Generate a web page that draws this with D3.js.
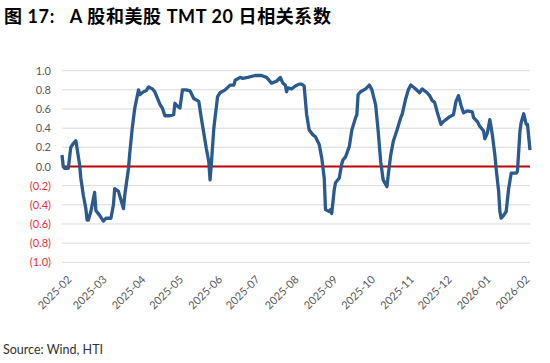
<!DOCTYPE html>
<html>
<head>
<meta charset="utf-8">
<script src="https://cdnjs.cloudflare.com/ajax/libs/d3/7.8.5/d3.min.js"></script>
<style>
	body { margin: 0; background: #fff; }
	svg { display: block; }
</style>
</head>
<body>
<script>
	// 20-day correlation, A-share vs US TMT
	var dates = [
		"2025-02-05","2025-02-06","2025-02-07","2025-02-10","2025-02-12","2025-02-14","2025-02-16","2025-02-17",
		"2025-02-19","2025-02-20","2025-02-22","2025-02-24","2025-02-25","2025-02-26","2025-02-28","2025-03-03",
		"2025-03-04","2025-03-07","2025-03-10","2025-03-12","2025-03-16","2025-03-18","2025-03-19","2025-03-22",
		"2025-03-24","2025-03-26","2025-03-27","2025-03-30","2025-03-31","2025-04-02","2025-04-04","2025-04-07",
		"2025-04-08","2025-04-11","2025-04-13","2025-04-15","2025-04-18","2025-04-20","2025-04-24","2025-04-26",
		"2025-04-28","2025-05-02","2025-05-05","2025-05-06","2025-05-08","2025-05-10","2025-05-12","2025-05-15",
		"2025-05-18","2025-05-21","2025-05-25","2025-05-27","2025-05-29","2025-05-31","2025-06-02","2025-06-03",
		"2025-06-04","2025-06-06","2025-06-09","2025-06-11","2025-06-15","2025-06-19","2025-06-22","2025-06-23",
		"2025-06-27","2025-06-29","2025-07-03","2025-07-09","2025-07-14","2025-07-18","2025-07-22","2025-07-26",
		"2025-07-29","2025-07-31","2025-08-02","2025-08-03","2025-08-04","2025-08-07","2025-08-10","2025-08-13",
		"2025-08-15","2025-08-17","2025-08-19","2025-08-21","2025-08-24","2025-08-26","2025-08-29","2025-08-31",
		"2025-09-02","2025-09-03","2025-09-06","2025-09-07","2025-09-08","2025-09-10","2025-09-11","2025-09-14",
		"2025-09-16","2025-09-17","2025-09-19","2025-09-22","2025-09-24","2025-09-27","2025-09-28","2025-09-29",
		"2025-10-01","2025-10-05","2025-10-08","2025-10-10","2025-10-13","2025-10-15","2025-10-17","2025-10-19",
		"2025-10-22","2025-10-23","2025-10-25","2025-10-27","2025-10-30","2025-11-02","2025-11-03","2025-11-06",
		"2025-11-08","2025-11-10","2025-11-13","2025-11-17","2025-11-19","2025-11-23","2025-11-25","2025-11-27",
		"2025-11-29","2025-12-01","2025-12-04","2025-12-06","2025-12-09","2025-12-11","2025-12-14","2025-12-16",
		"2025-12-18","2025-12-20","2025-12-22","2025-12-25","2025-12-29","2025-12-30","2026-01-02","2026-01-04",
		"2026-01-07","2026-01-08","2026-01-10","2026-01-12","2026-01-14","2026-01-16","2026-01-17","2026-01-19",
		"2026-01-20","2026-01-21","2026-01-23","2026-01-25","2026-01-27","2026-01-29","2026-02-02","2026-02-03",
		"2026-02-05","2026-02-06","2026-02-08","2026-02-10","2026-02-11","2026-02-13"
	];
	var corr = [
		0.12, 0.00, -0.02, -0.02, 0.20, 0.24, 0.27, 0.19,
		0.02, -0.12, -0.30, -0.44, -0.56, -0.56, -0.47, -0.27,
		-0.46, -0.51, -0.57, -0.54, -0.54, -0.40, -0.23, -0.26,
		-0.35, -0.44, -0.30, -0.02, 0.14, 0.40, 0.61, 0.80,
		0.75, 0.78, 0.79, 0.83, 0.81, 0.78, 0.65, 0.61,
		0.53, 0.53, 0.54, 0.66, 0.63, 0.61, 0.80, 0.80,
		0.79, 0.71, 0.68, 0.51, 0.35, 0.19, 0.05, -0.14,
		0.02, 0.40, 0.73, 0.77, 0.80, 0.85, 0.85, 0.90,
		0.93, 0.92, 0.93, 0.95, 0.95, 0.93, 0.87, 0.89,
		0.93, 0.87, 0.85, 0.78, 0.82, 0.81, 0.84, 0.86,
		0.86, 0.84, 0.54, 0.38, 0.33, 0.31, 0.23, 0.09,
		-0.12, -0.45, -0.47, -0.45, -0.49, -0.24, -0.17, -0.12,
		0.03, 0.07, 0.10, 0.21, 0.38, 0.51, 0.54, 0.75,
		0.78, 0.81, 0.85, 0.80, 0.64, 0.37, 0.05, -0.14,
		-0.21, -0.09, 0.12, 0.26, 0.38, 0.51, 0.54, 0.71,
		0.80, 0.85, 0.82, 0.77, 0.81, 0.77, 0.74, 0.69,
		0.67, 0.57, 0.44, 0.47, 0.50, 0.52, 0.54, 0.68,
		0.74, 0.64, 0.56, 0.58, 0.57, 0.51, 0.47, 0.42,
		0.37, 0.29, 0.35, 0.49, 0.33, 0.12, -0.02, -0.26,
		-0.47, -0.54, -0.51, -0.47, -0.23, -0.07, -0.07, -0.05,
		0.37, 0.46, 0.55, 0.44, 0.44, 0.17
	];
	var yTicks = [1.0, 0.8, 0.6, 0.4, 0.2, 0.0, -0.2, -0.4, -0.6, -0.8, -1.0];
	var monthTicks = ["2025-02-05","2025-03-05","2025-04-05","2025-05-05","2025-06-05","2025-07-05",
		"2025-08-05","2025-09-05","2025-10-05","2025-11-05","2025-12-05","2026-01-05","2026-02-05"];

	var w = 550, h = 363,
		pd = { left: 62, right: 530, top: 70.7, bottom: 262.3 },
		parse = d3.timeParse("%Y-%m-%d"),
		fmtMonth = d3.timeFormat("%Y-%m");

	var ds = dates.map(function(d, i) {
		return { date: parse(d), v: corr[i] };
	});

	var x = d3.scaleTime()
			  .domain([parse("2025-02-05"), parse("2026-02-13")])
			  .range([pd.left, pd.right]);
	var y = d3.scaleLinear()
			  .domain([-1, 1])
			  .range([pd.bottom, pd.top]);

	var svg = d3.select("body")
				.append("svg")
				.attr("width", w)
				.attr("height", h);

	svg.append("text")
	   .attr("x", 4)
	   .attr("y", 23)
	   .attr("font-family", "Lato, 'Noto Sans CJK SC', sans-serif")
	   .attr("font-weight", "bold")
	   .attr("font-size", "18px")
	   .attr("fill", "#000")
	   .style("white-space", "pre")
	   .attr("letter-spacing", "0.6px")
	   .text("图 17:   A 股和美股 TMT 20 日相关系数");

	// gridlines
	svg.append("g")
	   .selectAll("line")
	   .data(yTicks)
	   .enter()
	   .append("line")
	   .attr("x1", pd.left)
	   .attr("x2", pd.right)
	   .attr("y1", function(d) { return y(d); })
	   .attr("y2", function(d) { return y(d); })
	   .attr("stroke", "#d9d9d9")
	   .attr("stroke-width", 1);

	// y axis labels
	var yAxis = d3.axisLeft(y)
				  .tickValues(yTicks)
				  .tickSize(0)
				  .tickPadding(0)
				  .tickFormat(function(d) {
				  	var s = d3.format(".1f")(Math.abs(d));
				  	return d < 0 ? "(" + s + ")" : s;
				  });
	var gy = svg.append("g")
				.attr("transform", "translate(51,0)")
				.call(yAxis);
	gy.select(".domain").remove();
	gy.selectAll("text")
	  .attr("font-family", "Lato, sans-serif")
	  .attr("font-size", "11px")
	  .attr("fill", function(d) { return d < 0 ? "#e8303a" : "#595959"; });

	// x axis labels
	var xAxis = d3.axisBottom(x)
				  .tickValues(monthTicks.map(parse))
				  .tickSize(0)
				  .tickFormat(fmtMonth);
	var gx = svg.append("g")
				.attr("transform", "translate(0," + (pd.bottom + 13) + ")")
				.call(xAxis);
	gx.select(".domain").remove();
	gx.selectAll("text")
	  .attr("font-family", "Lato, sans-serif")
	  .attr("font-size", "11px")
	  .attr("fill", "#595959")
	  .attr("text-anchor", "end")
	  .attr("dy", "0.35em")
	  .attr("transform", "translate(5,0) rotate(-45)");

	// zero line
	svg.append("line")
	   .attr("x1", pd.left)
	   .attr("x2", pd.right)
	   .attr("y1", y(0))
	   .attr("y2", y(0))
	   .attr("stroke", "#c00000")
	   .attr("stroke-width", 2);

	var line = d3.line()
				 .x(function(d) { return x(d.date); })
				 .y(function(d) { return y(d.v); });

	svg.append("path")
	   .datum(ds)
	   .attr("d", line)
	   .attr("fill", "none")
	   .attr("stroke", "#2a5a8e")
	   .attr("stroke-width", 3.3)
	   .attr("stroke-linejoin", "round");

	svg.append("text")
	   .attr("x", 3)
	   .attr("y", 354)
	   .attr("font-family", "Lato, sans-serif")
	   .attr("font-size", "12.5px")
	   .attr("fill", "#333")
	   .text("Source: Wind, HTI");
</script>
</body>
</html>
